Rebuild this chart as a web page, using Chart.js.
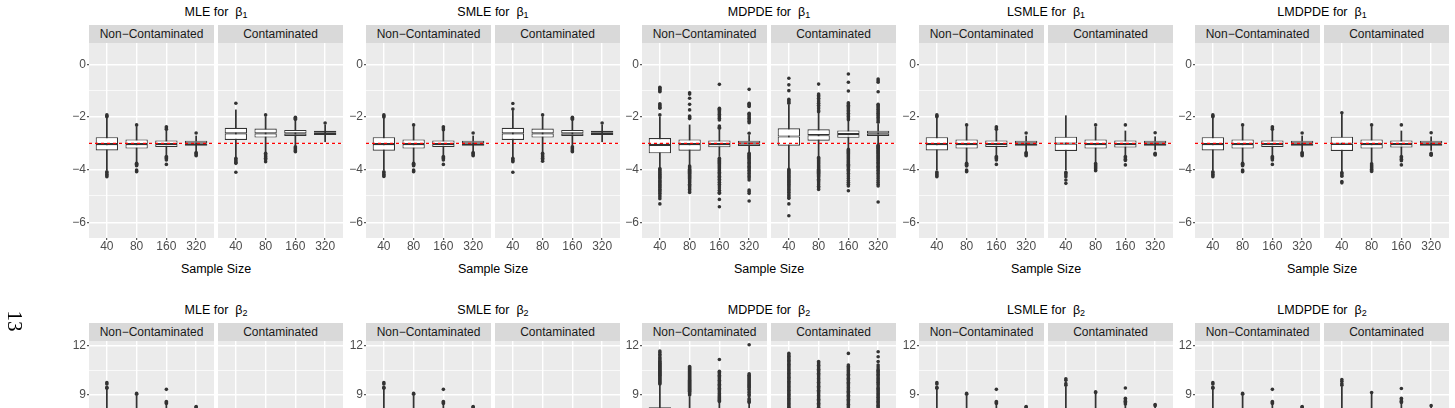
<!DOCTYPE html>
<html><head><meta charset="utf-8">
<script src="https://cdn.jsdelivr.net/npm/chart.js@4.4.0/dist/chart.umd.min.js"></script>
<style>
html,body{margin:0;padding:0;background:#fff;}
body{width:1455px;height:408px;overflow:hidden;position:relative;font-family:"Liberation Sans",Arial,Helvetica,sans-serif;}
canvas{position:absolute;}
.title{position:absolute;font-size:12.5px;line-height:1;color:#000;white-space:nowrap;transform:translate(-50%,-50%);}
.title sub{font-size:9px;vertical-align:-2px;line-height:0;}
.strip{position:absolute;background:#D9D9D9;color:#1A1A1A;font-size:12px;height:18px;line-height:18px;text-align:center;white-space:nowrap;}
.axtitle{position:absolute;font-size:12.5px;line-height:1;color:#000;white-space:nowrap;transform:translate(-50%,-50%);}
.page{position:absolute;font-family:"Liberation Serif","DejaVu Serif",serif;font-size:21px;line-height:1;color:#000;transform:translate(-50%,-50%) rotate(90deg);}
</style></head><body>
<script>
// ---------------- DATA ----------------
const sampleSizes = ['40','80','160','320'];
const estimators = ['MLE','SMLE','MDPDE','LSMLE','LMDPDE'];
const facetNames = ['Non\u2212Contaminated','Contaminated'];
const trueBeta1 = -3;
const trueBeta2 = 7.5;
const b1MajorTicks = [-6,-4,-2,0];
const b1MinorTicks = [-5,-3,-1];
const b2MajorTicks = [3,6,9,12];
const b2MinorTicks = [1.5,4.5,7.5,10.5];
// each box: [lower whisker, Q1, median, Q3, upper whisker]
// ---- beta1 ----
const mleB1Clean = [[-4.01,-3.27,-3.03,-2.77,-2.05],[-3.70,-3.20,-3.03,-2.85,-2.36],[-3.44,-3.14,-3.03,-2.89,-2.52],[-3.28,-3.09,-3.00,-2.90,-2.72]];
const mleB1CleanOut = [[-1.92,-1.96,-1.99,-4.08,-4.12,-4.17,-4.22,-4.27],[-2.30,-3.76,-3.79,-3.82,-3.85,-4.01,-4.05,-4.08],[-2.37,-2.42,-2.47,-3.50,-3.54,-3.58,-3.63,-3.80],[-2.61,-3.35,-3.39,-3.43,-3.47]];
const mleB1Cont = [[-3.51,-2.87,-2.62,-2.41,-1.73],[-3.32,-2.78,-2.62,-2.44,-1.99],[-3.09,-2.72,-2.62,-2.49,-2.11],[-2.94,-2.68,-2.60,-2.52,-2.30]];
const mleB1ContOut = [[-1.48,-3.57,-3.62,-3.67,-3.72,-3.76,-4.10],[-1.92,-3.38,-3.43,-3.48,-3.52,-3.57,-3.62,-3.70],[-2.01,-2.05,-2.09,-3.13,-3.17,-3.21,-3.25,-3.29,-3.32],[-2.23]];

const smleB1Clean = [[-4.01,-3.28,-3.03,-2.77,-2.05],[-3.70,-3.20,-3.03,-2.85,-2.36],[-3.44,-3.14,-3.03,-2.89,-2.52],[-3.28,-3.09,-3.00,-2.90,-2.72]];
const smleB1CleanOut = [[-1.92,-1.96,-2.00,-4.08,-4.12,-4.17,-4.22,-4.26],[-2.30,-3.76,-3.79,-3.82,-3.85,-4.01,-4.05,-4.08],[-2.37,-2.42,-2.48,-3.50,-3.54,-3.58,-3.63,-3.80],[-2.61,-3.35,-3.39,-3.43,-3.47]];
const smleB1Cont = [[-3.51,-2.87,-2.62,-2.41,-1.76],[-3.32,-2.78,-2.62,-2.44,-1.99],[-3.09,-2.72,-2.62,-2.49,-2.11],[-2.94,-2.68,-2.60,-2.52,-2.30]];
const smleB1ContOut = [[-1.70,-1.49,-3.57,-3.62,-3.66,-3.70,-4.10],[-1.92,-3.38,-3.43,-3.48,-3.52,-3.57,-3.62,-3.68],[-2.01,-2.05,-2.09,-3.13,-3.17,-3.21,-3.25,-3.29,-3.32],[-2.23]];

const mdpdeB1Clean = [[-3.92,-3.38,-3.06,-2.80,-2.00],[-3.82,-3.28,-3.03,-2.85,-2.30],[-3.50,-3.15,-3.03,-2.89,-2.49],[-3.32,-3.10,-3.00,-2.90,-2.70]];
const mdpdeB1CleanOut = [
 [-0.87,-0.90,-0.94,-0.97,-1.01,-1.04,-1.50,-1.54,-1.58,-1.63,-1.67,-1.92,-3.96,-4.00,-4.04,-4.09,-4.13,-4.17,-4.22,-4.26,-4.30,-4.34,-4.39,-4.43,-4.47,-4.51,-4.56,-4.60,-4.65,-4.69,-4.74,-4.79,-4.84,-4.90,-4.96,-5.03,-5.10,-5.30],
 [-1.08,-1.13,-1.29,-1.52,-1.73,-1.96,-1.99,-2.03,-2.06,-3.86,-3.90,-3.94,-3.98,-4.02,-4.06,-4.10,-4.14,-4.18,-4.22,-4.26,-4.30,-4.34,-4.38,-4.42,-4.46,-4.50,-4.55,-4.60,-4.65,-4.70,-4.75,-4.81,-4.87],
 [-0.76,-1.67,-1.71,-1.75,-1.80,-1.85,-1.90,-1.95,-2.00,-2.05,-2.11,-2.34,-2.39,-2.43,-3.57,-3.61,-3.65,-3.69,-3.73,-3.77,-3.81,-3.85,-3.89,-3.93,-3.97,-4.01,-4.05,-4.10,-4.15,-4.20,-4.25,-4.30,-4.36,-4.42,-4.48,-4.55,-4.62,-4.70,-4.78,-4.86,-4.90,-5.13,-5.41],
 [-0.95,-1.48,-1.52,-1.56,-1.60,-1.86,-1.90,-1.95,-2.00,-2.05,-2.10,-2.16,-2.22,-2.62,-3.38,-3.42,-3.46,-3.50,-3.54,-3.58,-3.62,-3.67,-3.72,-3.77,-3.82,-3.87,-3.92,-3.97,-4.02,-4.08,-4.14,-4.20,-4.26,-4.32,-4.39,-4.77,-4.83,-4.90,-5.19]];
const mdpdeB1Cont = [[-3.95,-3.09,-2.74,-2.43,-1.55],[-3.50,-2.90,-2.69,-2.47,-1.85],[-3.19,-2.79,-2.65,-2.51,-2.15],[-3.03,-2.72,-2.62,-2.52,-2.28]];
const mdpdeB1ContOut = [
 [-0.53,-0.78,-1.00,-1.33,-1.38,-1.43,-1.48,-3.99,-4.03,-4.07,-4.11,-4.15,-4.19,-4.23,-4.27,-4.31,-4.35,-4.39,-4.43,-4.47,-4.51,-4.55,-4.60,-4.65,-4.70,-4.75,-4.80,-4.86,-4.92,-4.98,-5.04,-5.09,-5.30,-5.75],
 [-0.75,-1.13,-1.18,-1.23,-1.29,-1.35,-1.42,-1.48,-1.55,-1.62,-1.69,-1.76,-1.80,-3.54,-3.58,-3.62,-3.66,-3.70,-3.74,-3.78,-3.82,-3.86,-3.90,-3.94,-3.98,-4.02,-4.06,-4.10,-4.14,-4.18,-4.22,-4.26,-4.31,-4.36,-4.41,-4.46,-4.51,-4.57,-4.63,-4.69,-4.75],
 [-0.37,-0.68,-1.01,-1.46,-1.50,-1.55,-1.60,-1.65,-1.70,-1.75,-1.80,-1.86,-1.92,-1.98,-2.04,-2.10,-3.23,-3.27,-3.31,-3.35,-3.39,-3.43,-3.47,-3.51,-3.55,-3.59,-3.63,-3.67,-3.71,-3.75,-3.79,-3.83,-3.88,-3.93,-3.98,-4.03,-4.08,-4.14,-4.20,-4.27,-4.34,-4.41,-4.48,-4.55,-4.62,-4.80],
 [-0.56,-0.62,-0.68,-1.04,-1.52,-1.56,-1.61,-1.66,-1.71,-1.76,-1.81,-1.86,-1.91,-1.96,-2.02,-2.08,-2.14,-2.20,-3.07,-3.11,-3.15,-3.19,-3.23,-3.27,-3.31,-3.35,-3.39,-3.43,-3.47,-3.51,-3.55,-3.59,-3.63,-3.67,-3.72,-3.77,-3.82,-3.87,-3.92,-3.97,-4.02,-4.08,-4.14,-4.20,-4.27,-4.34,-4.41,-4.48,-4.55,-4.62,-5.23]];

const lsmleB1Clean = [[-4.01,-3.27,-3.03,-2.77,-2.05],[-3.71,-3.20,-3.03,-2.85,-2.36],[-3.44,-3.14,-3.03,-2.89,-2.52],[-3.28,-3.09,-3.00,-2.90,-2.72]];
const lsmleB1CleanOut = [[-1.92,-1.96,-1.99,-4.09,-4.13,-4.18,-4.23,-4.27],[-2.30,-3.76,-3.79,-3.83,-3.86,-4.01,-4.05,-4.08],[-2.37,-2.42,-2.47,-3.50,-3.54,-3.58,-3.63,-3.80],[-2.61,-3.35,-3.39,-3.43,-3.47]];
const lsmleB1Cont = [[-4.01,-3.29,-3.01,-2.75,-1.95],[-3.73,-3.20,-3.03,-2.85,-2.38],[-3.44,-3.16,-3.03,-2.89,-2.53],[-3.25,-3.09,-3.00,-2.90,-2.75]];
const lsmleB1ContOut = [[-4.10,-4.15,-4.20,-4.27,-4.39,-4.52],[-2.30,-3.77,-3.81,-3.85,-3.89,-3.93,-3.97,-4.01,-4.04],[-2.30,-3.50,-3.55,-3.60,-3.65,-3.82],[-2.60,-3.38,-3.41,-3.44]];

const lmdpdeB1Clean = [[-4.01,-3.27,-3.03,-2.77,-2.05],[-3.70,-3.20,-3.03,-2.85,-2.36],[-3.44,-3.14,-3.03,-2.89,-2.52],[-3.28,-3.09,-3.00,-2.90,-2.72]];
const lmdpdeB1CleanOut = [[-1.92,-1.96,-1.99,-4.08,-4.12,-4.17,-4.22,-4.27],[-2.30,-3.76,-3.79,-3.82,-3.85,-4.01,-4.05,-4.08],[-2.37,-2.42,-2.47,-3.50,-3.54,-3.58,-3.63,-3.80],[-2.61,-3.35,-3.39,-3.43,-3.47]];
const lmdpdeB1Cont = [[-4.05,-3.29,-3.02,-2.75,-1.90],[-3.75,-3.20,-3.03,-2.85,-2.36],[-3.44,-3.16,-3.03,-2.89,-2.53],[-3.27,-3.09,-3.00,-2.90,-2.75]];
const lmdpdeB1ContOut = [[-1.84,-4.11,-4.15,-4.20,-4.25,-4.45,-4.50],[-2.30,-3.78,-3.82,-3.86,-3.90,-3.94,-3.98,-4.03,-4.07],[-2.30,-3.50,-3.55,-3.60,-3.66,-3.82],[-2.60,-3.38,-3.42,-3.45]];

// ---- beta2 ----
const mleB2Clean = [[5.3,7.0,7.45,7.95,9.35],[6.0,7.1,7.45,7.85,8.95],[6.4,7.2,7.45,7.7,8.38],[6.8,7.3,7.47,7.65,8.15]];
const mleB2CleanOut = [[9.42,9.48,9.68,9.76,5.1,4.9],[9.05,9.1,5.8],[8.48,8.54,8.6,9.35,6.3],[8.25,8.3,6.7]];
const mleB2Cont = [[2.6,4.0,4.6,5.1,6.6],[3.4,4.2,4.6,4.9,5.9],[3.8,4.3,4.55,4.8,5.5],[4.0,4.35,4.55,4.7,5.2]];
const mleB2ContOut = [[6.8,7.1,2.2],[6.1,3.1],[5.7,3.6],[5.35,3.9]];

const smleB2Clean = [[5.3,7.0,7.45,7.95,9.35],[6.0,7.1,7.45,7.85,8.95],[6.4,7.2,7.45,7.7,8.38],[6.8,7.3,7.47,7.65,8.15]];
const smleB2CleanOut = [[9.42,9.48,9.68,9.76,5.1,4.9],[9.05,9.1,5.8],[8.48,8.54,8.6,9.35,6.3],[8.25,8.3,6.7]];
const smleB2Cont = [[2.7,4.1,4.65,5.15,6.7],[3.5,4.25,4.62,4.95,6.0],[3.85,4.35,4.57,4.8,5.5],[4.05,4.37,4.56,4.72,5.2]];
const smleB2ContOut = [[6.9,7.2,2.3],[6.2,3.2],[5.75,3.6],[5.4,3.9]];

const mdpdeB2Clean = [[5.0,7.3,7.8,8.25,9.6],[5.6,7.2,7.6,7.95,8.9],[6.0,7.25,7.55,7.85,8.5],[6.3,7.3,7.5,7.75,8.45]];
const mdpdeB2CleanOut = [
 [9.68,9.74,9.8,9.86,9.92,9.98,10.04,10.1,10.16,10.22,10.28,10.34,10.4,10.46,10.52,10.58,10.64,10.7,10.76,10.82,10.88,10.94,11.0,11.07,11.14,11.22,11.3,11.4,11.5,11.6,11.7,4.6,4.3],
 [9.0,9.06,9.12,9.18,9.24,9.3,9.36,9.42,9.48,9.54,9.6,9.66,9.72,9.78,9.84,9.9,9.96,10.02,10.08,10.14,10.2,10.26,10.32,10.38,10.44,10.5,10.56,10.62,10.68,10.75,5.2],
 [8.6,8.66,8.72,8.78,8.84,8.9,8.96,9.02,9.1,9.18,9.26,9.34,9.42,9.5,9.58,9.66,9.74,9.82,9.9,9.98,10.06,10.14,10.22,10.3,10.38,10.46,11.18,5.7],
 [8.55,8.62,8.7,8.78,8.95,9.05,9.15,9.25,9.35,9.45,9.5,9.56,9.62,9.68,9.74,9.8,9.86,9.92,9.98,10.04,10.1,10.16,10.22,10.3,12.08,6.0]];
const mdpdeB2Cont = [[3.0,5.5,6.4,7.0,7.95],[3.5,5.8,6.5,7.0,7.9],[4.0,6.0,6.5,6.9,7.85],[4.5,6.2,6.55,6.85,7.8]];
const mdpdeB2ContOut = [
 [8.03,8.1,8.17,8.25,8.33,8.41,8.49,8.57,8.65,8.73,8.81,8.89,8.97,9.05,9.13,9.21,9.29,9.37,9.45,9.53,9.61,9.69,9.77,9.85,9.93,10.01,10.09,10.17,10.25,10.33,10.41,10.49,10.57,10.65,10.73,10.81,10.89,10.97,11.05,11.13,11.21,11.29,11.37,11.46,11.55,2.5],
 [8.02,8.1,8.18,8.26,8.34,8.42,8.5,8.58,8.66,8.74,8.82,8.9,8.98,9.06,9.14,9.22,9.3,9.38,9.46,9.54,9.62,9.7,9.78,9.86,9.94,10.02,10.1,10.18,10.26,10.34,10.42,10.5,10.58,10.66,10.74,10.82,10.9,10.98,11.05,3.0],
 [7.95,8.03,8.11,8.19,8.27,8.35,8.43,8.51,8.59,8.67,8.75,8.83,8.91,8.99,9.07,9.15,9.23,9.31,9.39,9.47,9.55,9.63,9.71,9.79,9.87,9.95,10.03,10.11,10.19,10.27,10.35,10.43,10.51,10.59,10.67,10.75,10.84,11.55,3.6],
 [7.9,7.98,8.06,8.14,8.22,8.3,8.38,8.46,8.54,8.62,8.7,8.78,8.86,8.94,9.02,9.1,9.18,9.26,9.34,9.42,9.5,9.62,9.7,9.78,9.86,9.94,10.02,10.1,10.2,10.28,10.36,10.44,10.52,10.6,10.72,10.84,11.05,11.35,11.65,4.1]];

const lsmleB2Clean = [[5.3,7.0,7.45,7.95,9.35],[6.0,7.1,7.45,7.85,8.95],[6.4,7.2,7.45,7.7,8.38],[6.8,7.3,7.47,7.65,8.15]];
const lsmleB2CleanOut = [[9.42,9.48,9.68,9.76,5.1,4.9],[9.05,9.1,5.8],[8.48,8.54,8.6,9.35,6.3],[8.25,8.3,6.7]];
const lsmleB2Cont = [[5.2,6.9,7.45,7.95,9.5],[6.0,7.05,7.45,7.85,9.08],[6.4,7.2,7.45,7.7,8.4],[6.8,7.3,7.48,7.65,8.28]];
const lsmleB2ContOut = [[9.6,9.7,9.9,10.0,4.9],[9.15,9.2,5.7],[8.45,8.55,8.62,8.7,8.8,9.43,6.2],[8.35,8.42,6.6]];

const lmdpdeB2Clean = [[5.3,7.0,7.45,7.95,9.35],[6.0,7.1,7.45,7.85,8.95],[6.4,7.2,7.45,7.7,8.38],[6.8,7.3,7.47,7.65,8.15]];
const lmdpdeB2CleanOut = [[9.42,9.48,9.68,9.76,5.1,4.9],[9.05,9.1,5.8],[8.48,8.54,8.6,9.35,6.3],[8.25,8.3,6.7]];
const lmdpdeB2Cont = [[5.2,6.9,7.45,7.95,9.5],[6.0,7.05,7.45,7.85,9.1],[6.4,7.2,7.45,7.7,8.45],[6.8,7.3,7.48,7.65,8.28]];
const lmdpdeB2ContOut = [[9.6,9.7,9.85,9.95,4.9],[9.15,5.7],[8.55,8.62,8.7,8.8,9.4,6.2],[8.35,6.6]];

// ---------------- LAYOUT ----------------
const INK = '#333333', PANEL_BG = '#EBEBEB';
const PANEL_X = [89, 366, 642, 919, 1195];
const FACET_W = 125, FACET_GAP = 4, PLOT_H = 195;
const ROW_TOP = [43, 341];
const PAD = 10, AXW = 30, AXH = 20;
const X_MIN = 0.4, X_MAX = 4.6;

const rows = [
  {sub:'1', yMin:-6.595, yMax:0.81, major:b1MajorTicks, minor:b1MinorTicks, truth:trueBeta1,
   panels:[[mleB1Clean,mleB1CleanOut,mleB1Cont,mleB1ContOut],[smleB1Clean,smleB1CleanOut,smleB1Cont,smleB1ContOut],
           [mdpdeB1Clean,mdpdeB1CleanOut,mdpdeB1Cont,mdpdeB1ContOut],[lsmleB1Clean,lsmleB1CleanOut,lsmleB1Cont,lsmleB1ContOut],
           [lmdpdeB1Clean,lmdpdeB1CleanOut,lmdpdeB1Cont,lmdpdeB1ContOut]]},
  {sub:'2', yMin:0.37, yMax:12.31, major:b2MajorTicks, minor:b2MinorTicks, truth:trueBeta2,
   panels:[[mleB2Clean,mleB2CleanOut,mleB2Cont,mleB2ContOut],[smleB2Clean,smleB2CleanOut,smleB2Cont,smleB2ContOut],
           [mdpdeB2Clean,mdpdeB2CleanOut,mdpdeB2Cont,mdpdeB2ContOut],[lsmleB2Clean,lsmleB2CleanOut,lsmleB2Cont,lsmleB2ContOut],
           [lmdpdeB2Clean,lmdpdeB2CleanOut,lmdpdeB2Cont,lmdpdeB2ContOut]]}
];

const panelBg = {id:'panelBg', beforeDraw(chart){
  const a = chart.chartArea, ctx = chart.ctx;
  ctx.save(); ctx.fillStyle = PANEL_BG; ctx.fillRect(a.left, a.top, a.right - a.left, a.bottom - a.top); ctx.restore();
}};

function fmt(v){ return v < 0 ? '\u2212' + Math.abs(v) : String(v); }

function addDiv(cls, html, style){
  const d = document.createElement('div'); d.className = cls; d.innerHTML = html;
  Object.assign(d.style, style); document.body.appendChild(d); return d;
}

function makeFacet(plotLeft, plotTop, row, boxes, outliers, showY){
  const axw = showY ? AXW : 0;
  const c = document.createElement('canvas');
  c.width = PAD + axw + FACET_W + PAD;
  c.height = PAD + PLOT_H + AXH + PAD;
  c.style.left = (plotLeft - PAD - axw) + 'px';
  c.style.top = (plotTop - PAD) + 'px';
  document.body.appendChild(c);
  const allY = row.major.concat(row.minor).sort((a,b)=>a-b);
  const isMajor = v => row.major.indexOf(v) >= 0;
  const pos = sampleSizes.map((s,i)=>i+1);
  new Chart(c, {
    type:'bar',
    data:{datasets:[
      {type:'line', data:[{x:X_MIN,y:row.truth},{x:X_MAX,y:row.truth}], borderColor:'#FF0000', borderWidth:1.2,
       borderDash:[3,3], pointRadius:0, fill:false, order:0},
      {type:'bar', data:boxes.map((b,i)=>({x:pos[i], y:[b[1], b[2]]})), backgroundColor:'#FFFFFF', borderColor:INK,
       borderWidth:1.1, borderSkipped:false, grouped:false, barPercentage:0.75, categoryPercentage:1, order:1},
      {type:'bar', data:boxes.map((b,i)=>({x:pos[i], y:[b[2], b[3]]})), backgroundColor:'#FFFFFF', borderColor:INK,
       borderWidth:1.1, borderSkipped:false, grouped:false, barPercentage:0.75, categoryPercentage:1, order:1},
      {type:'bar', data:boxes.map((b,i)=>({x:pos[i], y:[b[0], b[4]]})), backgroundColor:INK, borderWidth:0,
       grouped:false, barThickness:1.1, order:2},
      {type:'scatter', data:outliers.flatMap((arr,i)=>arr.map(v=>({x:pos[i], y:v}))), pointRadius:1.8,
       pointBackgroundColor:INK, pointBorderWidth:0, showLine:false, order:3}
    ]},
    options:{
      responsive:false, animation:false, devicePixelRatio:1, events:[],
      layout:{padding:PAD},
      plugins:{legend:{display:false}, tooltip:{enabled:false}},
      scales:{
        x:{type:'linear', min:X_MIN, max:X_MAX, offset:false, position:'bottom',
           afterBuildTicks: s => { s.ticks = pos.map(v=>({value:v})); },
           afterFit: s => { s.height = AXH; },
           border:{display:false},
           grid:{color:'#FFFFFF', lineWidth:1.4, offset:false, drawTicks:true, tickLength:2, tickColor:INK, tickWidth:1},
           ticks:{callback:(v,i)=>sampleSizes[i], color:'#4D4D4D', font:{family:'"Liberation Sans", Arial, sans-serif', size:12, lineHeight:1},
                  padding:1, maxRotation:0, autoSkip:false}},
        y:{type:'linear', min:row.yMin, max:row.yMax, beginAtZero:false, position:'left',
           afterBuildTicks: s => { s.ticks = allY.map(v=>({value:v})); },
           afterFit: s => { s.width = axw; },
           border:{display:false},
           grid:{color:'#FFFFFF', lineWidth: ctx => (ctx.tick && isMajor(ctx.tick.value)) ? 1.4 : 0.7,
                 drawTicks:showY, tickLength:2, tickWidth:1,
                 tickColor: ctx => (ctx.tick && isMajor(ctx.tick.value)) ? INK : 'rgba(0,0,0,0)'},
           ticks:{display:showY, callback:v => isMajor(v) ? fmt(v) : '', color:'#4D4D4D',
                  font:{family:'"Liberation Sans", Arial, sans-serif', size:12, lineHeight:1}, padding:1, autoSkip:false}}
      }
    },
    plugins:[panelBg]
  });
}

rows.forEach((row, r) => {
  const top = ROW_TOP[r];
  row.panels.forEach((p, k) => {
    const left0 = PANEL_X[k];
    const left1 = left0 + FACET_W + FACET_GAP;
    const centerX = left0 + FACET_W + FACET_GAP / 2;
    addDiv('title', estimators[k] + ' for&nbsp; \u03B2<sub>' + row.sub + '</sub>', {left: centerX + 'px', top: (top - 30.7) + 'px'});
    addDiv('strip', facetNames[0], {left: left0 + 'px', top: (top - 18) + 'px', width: FACET_W + 'px'});
    addDiv('strip', facetNames[1], {left: left1 + 'px', top: (top - 18) + 'px', width: FACET_W + 'px'});
    addDiv('axtitle', 'Sample Size', {left: centerX + 'px', top: (top + PLOT_H + 30.5) + 'px'});
    makeFacet(left0, top, row, p[0], p[1], true);
    makeFacet(left1, top, row, p[2], p[3], false);
  });
});
addDiv('page', '13', {left: '14px', top: '321px'});
</script>
</body></html>
